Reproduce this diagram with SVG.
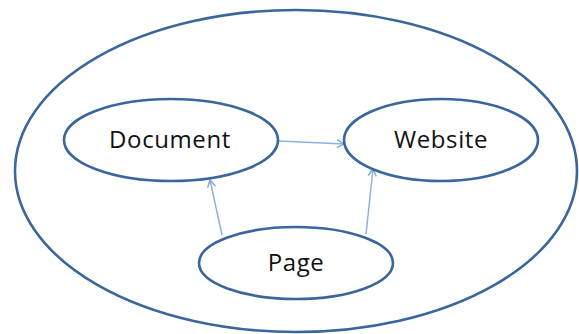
<svg xmlns="http://www.w3.org/2000/svg" width="579" height="334" viewBox="0 0 579 334">
<defs>
<marker id="arr" markerWidth="10" markerHeight="10" refX="8" refY="5" orient="auto" markerUnits="userSpaceOnUse">
<path d="M1,1 L8,5 L1,9" fill="none" stroke="#7fa8d8" stroke-width="1.4"/>
</marker>
</defs>
<style>
.node{fill:#fff;stroke:#3b669c;stroke-width:2.6}
.outer{fill:#fff;stroke:#3b669c;stroke-width:2.6}
.lbl{font-family:"Open Sans","Noto Sans",sans-serif;font-size:24px;letter-spacing:0.6px;fill:#111;text-anchor:middle}
.edge{stroke:#8cb2de;stroke-width:1.5;fill:none;marker-end:url(#arr)}
</style>
<rect width="579" height="334" fill="#fff"/>
<g id="outer"><ellipse class="outer" cx="296" cy="171" rx="281" ry="161"/></g>
<g id="connectors">
<line class="edge" x1="279" y1="141" x2="344" y2="144"/>
<line class="edge" x1="222" y1="235" x2="210" y2="180"/>
<line class="edge" x1="366" y1="234" x2="373" y2="169"/>
</g>
<g id="document"><ellipse class="node" cx="171" cy="140" rx="107" ry="41"/><text class="lbl" x="170" y="148">Document</text></g>
<g id="website"><ellipse class="node" cx="441" cy="140" rx="97" ry="41"/><text class="lbl" x="441" y="148">Website</text></g>
<g id="page"><ellipse class="node" cx="296" cy="263" rx="97" ry="36"/><text class="lbl" x="296" y="271">Page</text></g>
</svg>
